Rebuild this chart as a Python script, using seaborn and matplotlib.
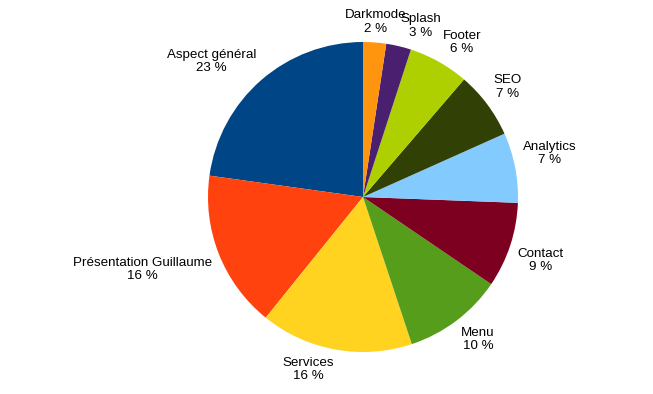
import numpy as np
import matplotlib.pyplot as plt
import seaborn as sns

# === data (share of answers, %) ===
CATEGORIES = ["Aspect général", "Présentation Guillaume", "Services", "Menu",
              "Contact", "Analytics", "SEO", "Footer", "Splash", "Darkmode"]
VALUES = [22.8, 16.4, 15.9, 10.4, 8.9, 7.3, 7.0, 6.3, 2.6, 2.4]
COLORS = ["#004586", "#ff420e", "#ffd320", "#579d1c", "#7e0021",
          "#83caff", "#314004", "#aecf00", "#4b1f6f", "#ff950e"]

W, H = 653, 394
CX, CY, R = 363, 197, 155  # pie centre and radius in pixels

sns.set_style("white")
plt.rcParams['font.family'] = ['Liberation Sans', 'DejaVu Sans']

fig = plt.figure(figsize=(W / 100, H / 100), dpi=100)
ax = fig.add_axes([(CX - R) / W, (H - CY - R) / H, 2 * R / W, 2 * R / H])

wedges, _ = ax.pie(VALUES, colors=COLORS, startangle=90, counterclock=True,
                   wedgeprops=dict(linewidth=0))
ax.set_xlim(-1, 1)
ax.set_ylim(-1, 1)
ax.set_aspect("equal")

# labels placed just outside the wedge, anchored by their nearest corner
total = sum(VALUES)
for w, name, v in zip(wedges, CATEGORIES, VALUES):
    ang = np.deg2rad((w.theta1 + w.theta2) / 2)
    c, s = np.cos(ang), np.sin(ang)
    ha = "center" if abs(c) < 0.15 else ("left" if c > 0 else "right")
    va = "center" if abs(s) < 0.1 else ("bottom" if s > 0 else "top")
    pct = round(v / total * 100)
    ax.text(1.05 * c, 1.05 * s, f"{name}\n{pct} %", ha=ha, va=va,
            multialignment="center", fontsize=9.6, color="black",
            linespacing=1.15)

fig.savefig("out.png", dpi=100, facecolor="white")
